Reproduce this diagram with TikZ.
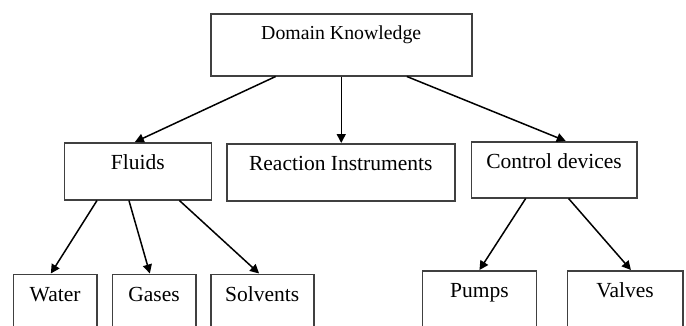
\documentclass[tikz,border=0pt]{standalone}
\usepackage{fontspec}
\setmainfont{Liberation Serif}
\usetikzlibrary{arrows.meta,calc}

\begin{document}
\begin{tikzpicture}
  [x=1pt,y=-1pt,
   box/.style={draw=black!75,line width=1.5pt,inner sep=0pt,anchor=north west,
     text height=27pt,font=\fontsize{21.5}{24}\selectfont},
   arr/.style={line width=1.5pt,-{Triangle[length=9pt,width=9pt]}}]
  \useasboundingbox (0,0) rectangle (686,325);
  \clip (0,0) rectangle (686,325);

  \node[box,minimum width=261pt,text height=26pt,text depth=36pt,
    font=\fontsize{19.8}{22}\selectfont] (dk) at (210,13) {Domain Knowledge};
  \node[box,minimum width=147pt,text depth=30pt] (fl) at (63.6,142) {Fluids};
  \node[box,minimum width=228pt,text depth=30pt] (ri) at (226,143) {Reaction Instruments};
  \node[box,minimum width=165.4pt,text depth=29pt] (cd) at (470.6,141) {Control devices};
  \node[box,minimum width=83.3pt,text depth=60pt] (wa) at (12.7,273.5) {Water};
  \node[box,minimum width=83.3pt,text depth=60pt] (ga) at (111.7,273.5) {Gases};
  \node[box,minimum width=103pt,text depth=60pt] (so) at (210,273.5) {Solvents};
  \node[box,minimum width=114pt,text depth=60pt] (pu) at (421.7,270) {Pumps};
  \node[box,minimum width=115.3pt,text depth=60pt] (va) at (566.7,270) {Valves};

  \draw[arr] ($(dk.south west)!.25!(dk.south east)$) -- ($(fl.north west)!.48!(fl.north east)$);
  \draw[arr] (dk.south) -- (dk.south |- ri.north);
  \draw[arr] ($(dk.south west)!.75!(dk.south east)$) -- ($(cd.north west)!.57!(cd.north east)$);

  \draw[arr] ($(fl.south west)!.225!(fl.south east)$) -- ($(wa.north west)!.45!(wa.north east)$);
  \draw[arr] ($(fl.south west)!.44!(fl.south east)$) -- ($(ga.north west)!.45!(ga.north east)$);
  \draw[arr] ($(fl.south west)!.78!(fl.south east)$) -- ($(so.north west)!.47!(so.north east)$);

  \draw[arr] ($(cd.south west)!.33!(cd.south east)$) -- (pu.north);
  \draw[arr] ($(cd.south west)!.587!(cd.south east)$) -- ($(va.north west)!.55!(va.north east)$);
\end{tikzpicture}
\end{document}
